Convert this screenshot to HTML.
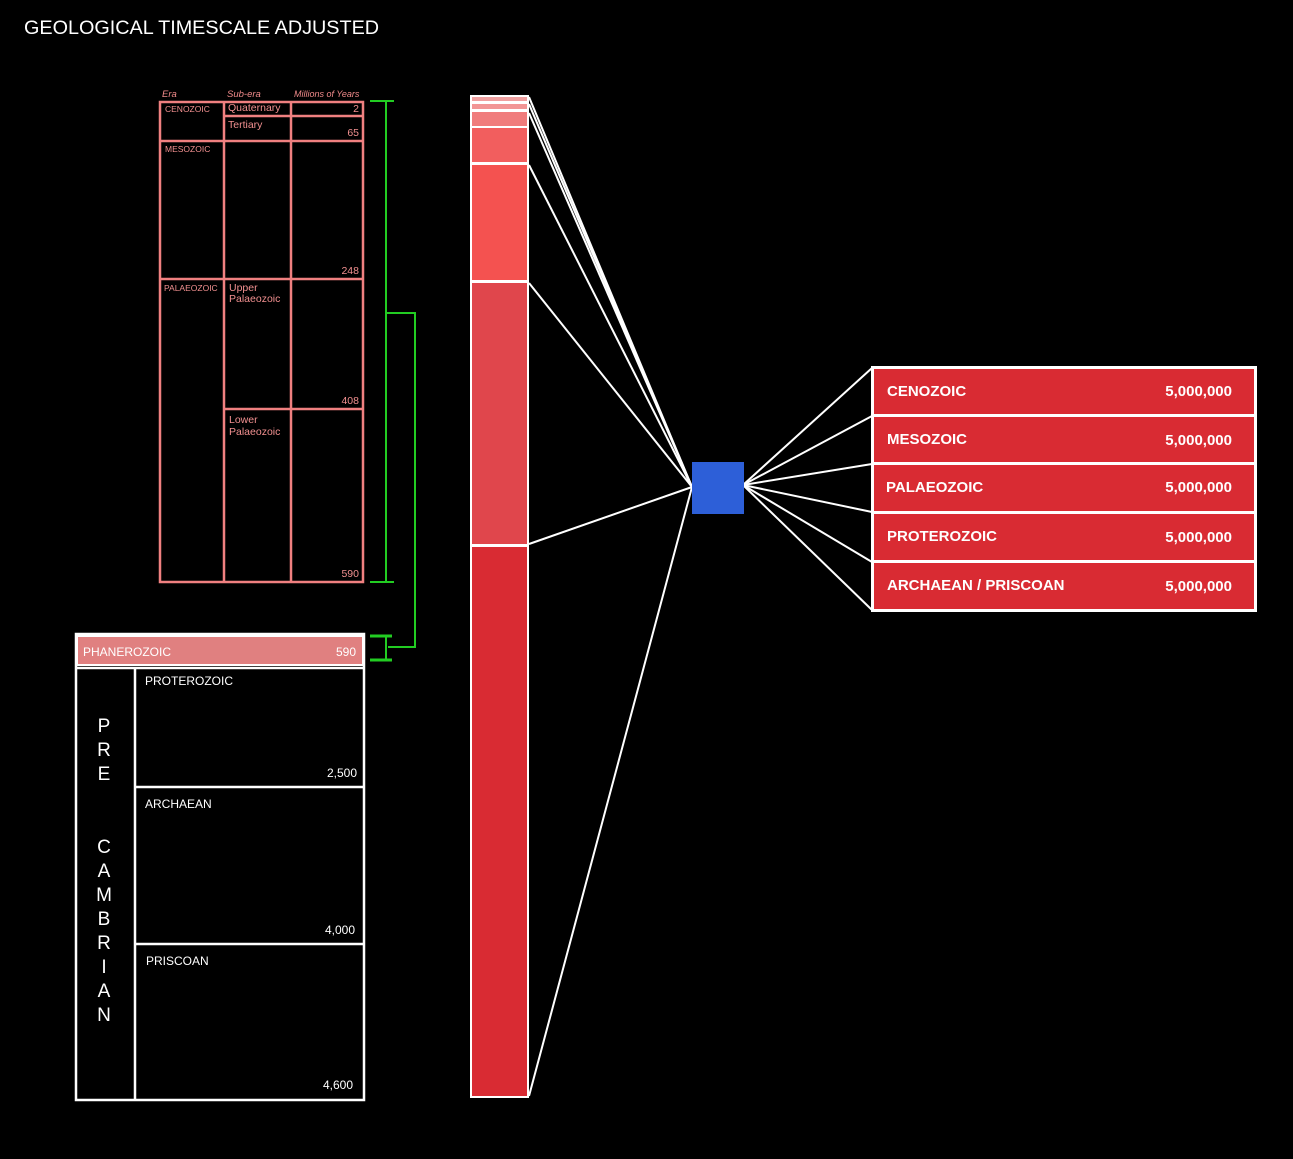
<!DOCTYPE html><html><head><style>
body{margin:0;background:#000;width:1293px;height:1154px;overflow:hidden;font-family:"Liberation Sans",sans-serif}
</style></head><body>
<svg width="1293" height="1154" xmlns="http://www.w3.org/2000/svg" font-family="Liberation Sans, sans-serif">
<rect width="1293" height="1154" fill="#000"/>
<text x="24" y="34" fill="#fff" font-size="19.8">GEOLOGICAL TIMESCALE ADJUSTED</text>
<g fill="#f08a8a" font-size="9.5" font-style="italic">
<text x="162" y="97">Era</text><text x="227" y="97">Sub-era</text><text x="294" y="97" font-size="9">Millions of Years</text></g>
<g stroke="#f08080" stroke-width="2.5" fill="none">
<rect x="160" y="102" width="203" height="480"/>
<line x1="224" y1="102" x2="224" y2="582"/><line x1="291" y1="102" x2="291" y2="582"/>
<line x1="224" y1="116" x2="363" y2="116"/>
<line x1="160" y1="141" x2="363" y2="141"/>
<line x1="160" y1="279" x2="363" y2="279"/>
<line x1="224" y1="409" x2="363" y2="409"/>
</g>
<g fill="#f29090" font-size="8.5">
<text x="165" y="112">CENOZOIC</text><text x="165" y="152">MESOZOIC</text><text x="164" y="291">PALAEOZOIC</text></g>
<g fill="#f29090" font-size="10.5">
<text x="228" y="111">Quaternary</text><text x="228" y="128">Tertiary</text>
<text x="229" y="291">Upper</text><text x="229" y="302">Palaeozoic</text>
<text x="229" y="423">Lower</text><text x="229" y="435">Palaeozoic</text>
<g text-anchor="end"><text x="359" y="112">2</text><text x="359" y="136">65</text><text x="359" y="274">248</text><text x="359" y="404">408</text><text x="359" y="577">590</text></g></g>
<g stroke="#22cc22" stroke-width="2" fill="none">
<line x1="386" y1="101" x2="386" y2="582"/><line x1="370" y1="101" x2="394" y2="101"/><line x1="370" y1="582" x2="394" y2="582"/>
<polyline points="386,313 415,313 415,647 388,647"/>
<line x1="370" y1="636" x2="392" y2="636" stroke-width="3"/><line x1="370" y1="660" x2="392" y2="660" stroke-width="3"/>
<line x1="386" y1="636" x2="386" y2="660"/>
</g>
<rect x="77" y="636" width="286" height="29" fill="#e08080" stroke="#fff" stroke-width="2"/>
<text x="83" y="656" fill="#fff" font-size="12">PHANEROZOIC</text><text x="356" y="656" fill="#fff" font-size="12" text-anchor="end">590</text>
<g stroke="#fff" stroke-width="2.5" fill="none">
<rect x="76" y="634" width="288" height="466"/>
<line x1="135" y1="668" x2="135" y2="1100"/>
<line x1="76" y1="668" x2="364" y2="668"/>
<line x1="135" y1="787" x2="364" y2="787"/><line x1="135" y1="944" x2="364" y2="944"/>
</g>
<g fill="#fff" font-size="12">
<text x="145" y="685">PROTEROZOIC</text><text x="145" y="808">ARCHAEAN</text><text x="146" y="965">PRISCOAN</text>
<g text-anchor="end"><text x="357" y="777">2,500</text><text x="355" y="934">4,000</text><text x="353" y="1089">4,600</text></g></g>
<g fill="#fff" font-size="19" text-anchor="middle">
<text x="104" y="732">P</text><text x="104" y="756">R</text><text x="104" y="780">E</text>
<text x="104" y="853">C</text><text x="104" y="877">A</text><text x="104" y="901">M</text><text x="104" y="925">B</text><text x="104" y="949">R</text><text x="104" y="973">I</text><text x="104" y="997">A</text><text x="104" y="1021">N</text></g>
<rect x="470" y="95" width="59" height="1003" fill="#fff"/>
<rect x="472" y="97" width="55" height="4" fill="#f0a0a0"/>
<rect x="472" y="104" width="55" height="5" fill="#f29595"/>
<rect x="472" y="112" width="55" height="14" fill="#f07c7c"/>
<rect x="472" y="128" width="55" height="34" fill="#f25e5e"/>
<rect x="472" y="165" width="55" height="115" fill="#f45250"/>
<rect x="472" y="283" width="55" height="261" fill="#e0464c"/>
<rect x="472" y="547" width="55" height="549" fill="#d92b33"/>
<g stroke="#fff" stroke-width="2">
<line x1="529" y1="97" x2="692" y2="487"/><line x1="529" y1="104" x2="692" y2="487"/><line x1="529" y1="113" x2="692" y2="487"/>
<line x1="529" y1="165" x2="692" y2="487"/><line x1="529" y1="283" x2="692" y2="487"/><line x1="529" y1="544" x2="692" y2="487"/>
<line x1="529" y1="1096" x2="692" y2="487"/>
<line x1="743" y1="485" x2="872" y2="368"/><line x1="743" y1="485" x2="872" y2="416"/><line x1="743" y1="485" x2="872" y2="464"/>
<line x1="743" y1="485" x2="872" y2="512"/><line x1="743" y1="485" x2="872" y2="562"/><line x1="743" y1="485" x2="872" y2="610"/>
</g>
<rect x="692" y="462" width="52" height="52" fill="#2d5fd8"/>
<rect x="871" y="366" width="386" height="246" fill="#fff"/>
<g fill="#d92b33">
<rect x="874" y="369" width="380" height="45"/><rect x="874" y="417" width="380" height="45"/><rect x="874" y="465" width="380" height="46"/>
<rect x="874" y="514" width="380" height="46"/><rect x="874" y="563" width="380" height="46"/></g>
<g fill="#fff" font-size="15" font-weight="bold">
<text x="887" y="396">CENOZOIC</text><text x="887" y="444">MESOZOIC</text><text x="886" y="492">PALAEOZOIC</text><text x="887" y="541">PROTEROZOIC</text><text x="887" y="590">ARCHAEAN / PRISCOAN</text>
<g text-anchor="end"><text x="1232" y="396">5,000,000</text><text x="1232" y="445">5,000,000</text><text x="1232" y="492">5,000,000</text><text x="1232" y="542">5,000,000</text><text x="1232" y="591">5,000,000</text></g></g>
</svg></body></html>
